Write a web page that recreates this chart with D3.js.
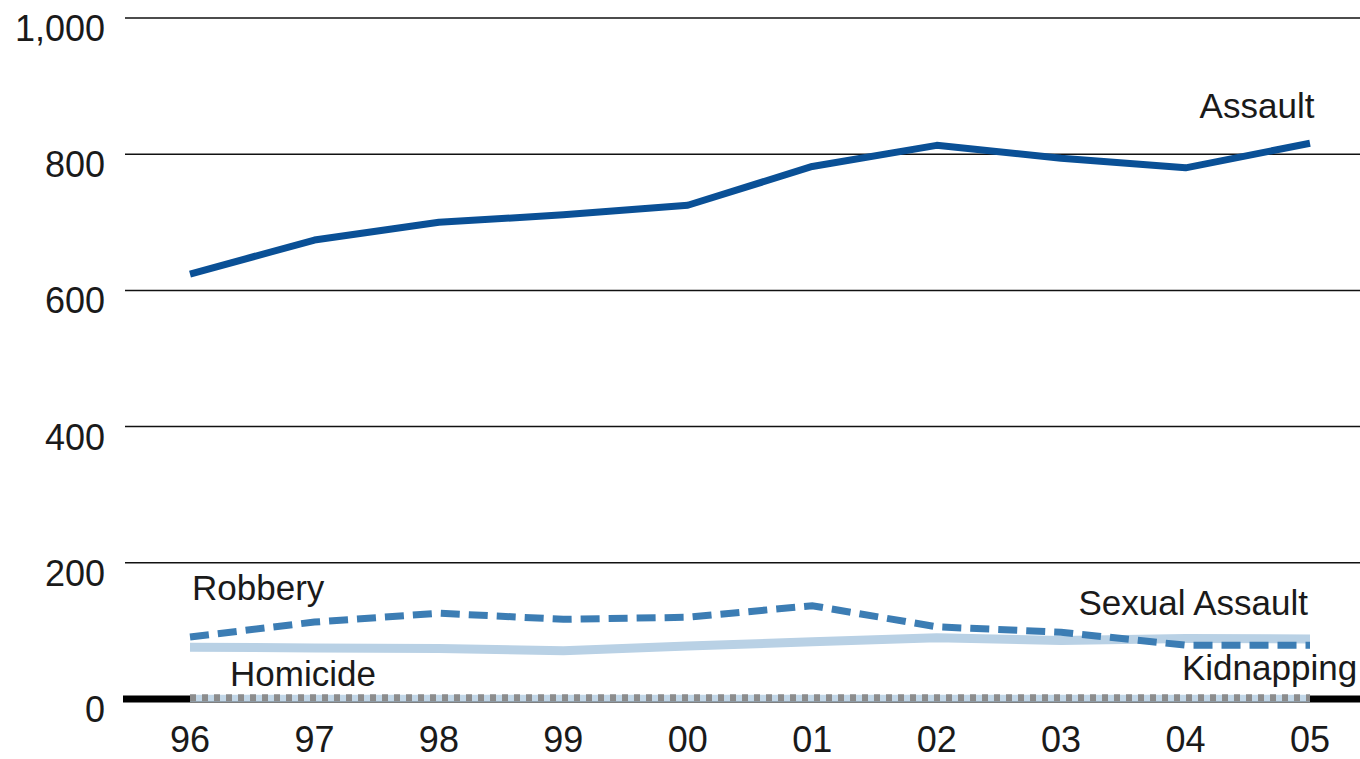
<!DOCTYPE html>
<html>
<head>
<meta charset="utf-8">
<script src="https://cdn.jsdelivr.net/npm/d3@7"></script>
<style>
  html, body { margin: 0; padding: 0; background: #fff; }
  svg { display: block; }
  text { font-family: "Liberation Sans", Arial, Helvetica, sans-serif; fill: #1a1a1a; }
</style>
</head>
<body>
<svg id="chart" width="1360" height="759"></svg>
<script>
// ---- data ----
const years = ["96", "97", "98", "99", "00", "01", "02", "03", "04", "05"];
const assault = [624, 674, 700, 711, 725, 782, 813, 794, 780, 816];
const robbery = [91, 113, 126, 117, 120, 137, 106, 98, 79, 79];
const sexualAssault = [76, 75, 74, 71, 78, 84, 90, 86, 89, 88];
const homicide = [2, 2, 2, 2, 2, 2, 2, 2, 2, 2];
const kidnapping = [1, 1, 1, 1, 1, 1, 1, 1, 1, 1];
const yTicks = [0, 200, 400, 600, 800, 1000];

// ---- layout ----
const svg = d3.select("#chart");
const x = d3.scalePoint().domain(years).range([190, 1310]);
const y = d3.scaleLinear().domain([0, 1000]).range([699, 18]);
const gridLeft = 125, gridRight = 1360;

// gridlines
svg.append("g").selectAll("line").data(yTicks.filter(d => d !== 0)).join("line")
  .attr("x1", gridLeft).attr("x2", gridRight)
  .attr("y1", d => y(d)).attr("y2", d => y(d))
  .attr("stroke", "#111").attr("stroke-width", 1.5);

// baseline
svg.append("line")
  .attr("x1", 123).attr("x2", gridRight)
  .attr("y1", y(0)).attr("y2", y(0))
  .attr("stroke", "#000").attr("stroke-width", 7);

// y tick labels
const fmt = d3.format(",");
svg.append("g").selectAll("text").data(yTicks).join("text")
  .attr("x", 105).attr("y", d => y(d) + 23)
  .attr("text-anchor", "end")
  .attr("font-size", 36)
  .text(d => fmt(d));

// x tick labels
svg.append("g").selectAll("text").data(years).join("text")
  .attr("x", d => x(d)).attr("y", 752)
  .attr("text-anchor", "middle")
  .attr("font-size", 36)
  .text(d => d);

const line = d3.line().x((d, i) => x(years[i])).y(d => y(d)).curve(d3.curveLinear);

// kidnapping (light blue) and homicide (grey dotted) on the baseline
svg.append("path").datum(kidnapping).attr("d", line)
  .attr("fill", "none").attr("stroke", "#c2d7e8").attr("stroke-width", 7);
svg.append("path").datum(homicide).attr("d", line)
  .attr("fill", "none").attr("stroke", "#8c8c8c").attr("stroke-width", 7)
  .attr("stroke-dasharray", "6,6");

// sexual assault
svg.append("path").datum(sexualAssault).attr("d", line)
  .attr("fill", "none").attr("stroke", "#b9d1e5").attr("stroke-width", 9);

// robbery
svg.append("path").datum(robbery).attr("d", line)
  .attr("fill", "none").attr("stroke", "#3c7db4").attr("stroke-width", 7)
  .attr("stroke-dasharray", "19,9");

// assault
svg.append("path").datum(assault).attr("d", line)
  .attr("fill", "none").attr("stroke", "#0a5096").attr("stroke-width", 7)
  .attr("stroke-linejoin", "round");

// series labels
const labels = [
  { t: "Assault", x: 1257, y: 118, a: "middle" },
  { t: "Robbery", x: 192, y: 600, a: "start" },
  { t: "Homicide", x: 230, y: 686, a: "start" },
  { t: "Sexual Assault", x: 1308, y: 615, a: "end" },
  { t: "Kidnapping", x: 1182, y: 680, a: "start" }
];
svg.append("g").selectAll("text").data(labels).join("text")
  .attr("x", d => d.x).attr("y", d => d.y)
  .attr("text-anchor", d => d.a)
  .attr("font-size", 35)
  .text(d => d.t);
</script>
</body>
</html>
